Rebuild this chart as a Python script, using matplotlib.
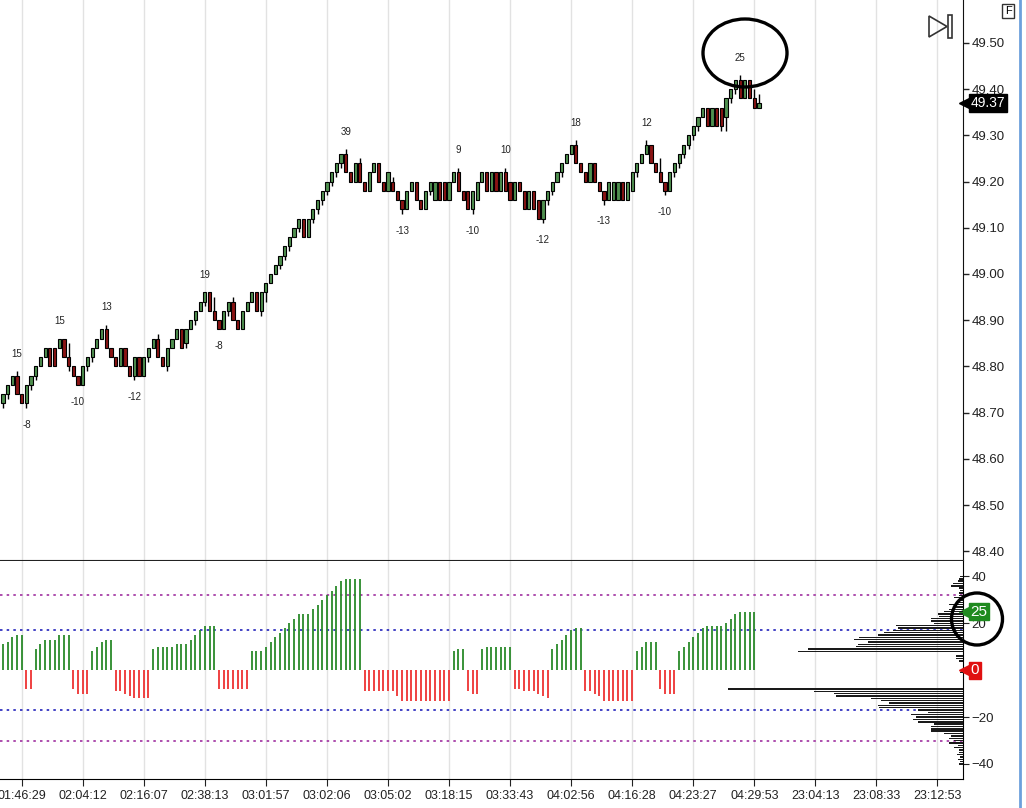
import numpy as np
import matplotlib
matplotlib.use("Agg")
import matplotlib.pyplot as plt
from matplotlib import patches, transforms
from matplotlib.lines import Line2D

plt.rcParams["font.family"] = ["Liberation Sans", "DejaVu Sans"]

# ---- price candles (one per bar, in dollars) ----
opens = [48.72, 48.74, 48.76, 48.78, 48.74, 48.72, 48.76, 48.78, 48.80, 48.82,
         48.84, 48.84, 48.84, 48.86, 48.82, 48.80, 48.78, 48.76, 48.80, 48.82,
         48.84, 48.86, 48.88, 48.84, 48.82, 48.80, 48.84, 48.80, 48.78, 48.82,
         48.78, 48.82, 48.84, 48.86, 48.82, 48.80, 48.84, 48.86, 48.88, 48.85,
         48.88, 48.90, 48.92, 48.94, 48.96, 48.92, 48.90, 48.88, 48.92, 48.94,
         48.90, 48.88, 48.92, 48.94, 48.96, 48.92, 48.96, 48.98, 49.00, 49.02,
         49.04, 49.06, 49.08, 49.10, 49.12, 49.08, 49.12, 49.14, 49.16, 49.18,
         49.20, 49.22, 49.24, 49.26, 49.22, 49.20, 49.24, 49.20, 49.18, 49.22,
         49.24, 49.20, 49.18, 49.20, 49.18, 49.16, 49.14, 49.18, 49.20, 49.16,
         49.14, 49.18, 49.16, 49.20, 49.20, 49.16, 49.20, 49.22, 49.18, 49.18,
         49.14, 49.16, 49.20, 49.22, 49.18, 49.22, 49.18, 49.22, 49.20, 49.16,
         49.20, 49.18, 49.14, 49.18, 49.16, 49.12, 49.16, 49.18, 49.20, 49.22,
         49.24, 49.26, 49.28, 49.24, 49.22, 49.20, 49.24, 49.20, 49.18, 49.16,
         49.16, 49.16, 49.20, 49.16, 49.18, 49.22, 49.24, 49.26, 49.28, 49.24,
         49.22, 49.20, 49.18, 49.22, 49.24, 49.26, 49.28, 49.30, 49.32, 49.34,
         49.36, 49.32, 49.36, 49.36, 49.34, 49.38, 49.40, 49.42, 49.38, 49.42,
         49.38, 49.36]
closes = [48.74, 48.76, 48.78, 48.74, 48.72, 48.76, 48.78, 48.80, 48.82, 48.84,
          48.80, 48.80, 48.86, 48.82, 48.80, 48.78, 48.76, 48.80, 48.82, 48.84,
          48.86, 48.88, 48.84, 48.82, 48.80, 48.84, 48.80, 48.78, 48.82, 48.78,
          48.82, 48.84, 48.86, 48.82, 48.80, 48.84, 48.86, 48.88, 48.84, 48.88,
          48.90, 48.92, 48.94, 48.96, 48.92, 48.90, 48.88, 48.92, 48.94, 48.90,
          48.88, 48.92, 48.94, 48.96, 48.92, 48.96, 48.98, 49.00, 49.02, 49.04,
          49.06, 49.08, 49.10, 49.12, 49.08, 49.12, 49.14, 49.16, 49.18, 49.20,
          49.22, 49.24, 49.26, 49.22, 49.20, 49.24, 49.20, 49.18, 49.22, 49.24,
          49.20, 49.18, 49.22, 49.18, 49.16, 49.14, 49.18, 49.20, 49.16, 49.14,
          49.18, 49.20, 49.20, 49.16, 49.16, 49.20, 49.22, 49.18, 49.16, 49.14,
          49.18, 49.20, 49.22, 49.18, 49.22, 49.18, 49.22, 49.18, 49.16, 49.20,
          49.18, 49.14, 49.18, 49.14, 49.12, 49.16, 49.18, 49.20, 49.22, 49.24,
          49.26, 49.28, 49.24, 49.22, 49.20, 49.24, 49.20, 49.18, 49.16, 49.20,
          49.20, 49.20, 49.16, 49.20, 49.22, 49.24, 49.26, 49.28, 49.24, 49.22,
          49.20, 49.18, 49.22, 49.24, 49.26, 49.28, 49.30, 49.32, 49.34, 49.36,
          49.32, 49.36, 49.32, 49.32, 49.38, 49.40, 49.42, 49.38, 49.42, 49.38,
          49.36, 49.37]
highs = [48.74, 48.76, 48.78, 48.79, 48.74, 48.76, 48.78, 48.80, 48.82, 48.84,
         48.84, 48.84, 48.86, 48.86, 48.85, 48.80, 48.78, 48.80, 48.82, 48.84,
         48.86, 48.88, 48.89, 48.84, 48.82, 48.84, 48.84, 48.80, 48.82, 48.82,
         48.82, 48.84, 48.86, 48.87, 48.82, 48.84, 48.86, 48.88, 48.88, 48.88,
         48.90, 48.92, 48.94, 48.96, 48.96, 48.95, 48.90, 48.92, 48.94, 48.95,
         48.90, 48.92, 48.94, 48.96, 48.96, 48.96, 48.98, 49.00, 49.02, 49.04,
         49.06, 49.08, 49.10, 49.12, 49.12, 49.12, 49.14, 49.16, 49.18, 49.20,
         49.22, 49.24, 49.26, 49.27, 49.22, 49.24, 49.25, 49.20, 49.22, 49.24,
         49.24, 49.20, 49.22, 49.21, 49.18, 49.16, 49.18, 49.20, 49.20, 49.16,
         49.18, 49.20, 49.20, 49.20, 49.20, 49.20, 49.22, 49.23, 49.18, 49.18,
         49.18, 49.20, 49.22, 49.22, 49.22, 49.22, 49.22, 49.23, 49.20, 49.20,
         49.20, 49.18, 49.18, 49.18, 49.16, 49.16, 49.18, 49.20, 49.22, 49.24,
         49.26, 49.28, 49.29, 49.24, 49.22, 49.24, 49.24, 49.20, 49.18, 49.20,
         49.20, 49.20, 49.20, 49.20, 49.22, 49.24, 49.26, 49.29, 49.28, 49.24,
         49.25, 49.20, 49.22, 49.24, 49.26, 49.28, 49.30, 49.32, 49.34, 49.36,
         49.36, 49.36, 49.36, 49.36, 49.38, 49.40, 49.42, 49.43, 49.42, 49.42,
         49.40, 49.39]
lows = [48.71, 48.73, 48.76, 48.74, 48.72, 48.71, 48.75, 48.77, 48.80, 48.82,
        48.80, 48.80, 48.84, 48.82, 48.79, 48.78, 48.76, 48.76, 48.79, 48.81,
        48.84, 48.86, 48.84, 48.82, 48.80, 48.80, 48.80, 48.78, 48.77, 48.78,
        48.78, 48.81, 48.84, 48.82, 48.80, 48.79, 48.84, 48.86, 48.84, 48.84,
        48.88, 48.89, 48.92, 48.93, 48.92, 48.90, 48.88, 48.88, 48.91, 48.90,
        48.88, 48.88, 48.92, 48.94, 48.92, 48.91, 48.94, 48.98, 49.00, 49.01,
        49.03, 49.05, 49.08, 49.09, 49.08, 49.08, 49.11, 49.13, 49.15, 49.17,
        49.19, 49.21, 49.23, 49.22, 49.20, 49.20, 49.20, 49.18, 49.18, 49.22,
        49.20, 49.18, 49.18, 49.18, 49.16, 49.13, 49.14, 49.18, 49.16, 49.14,
        49.14, 49.17, 49.16, 49.16, 49.16, 49.16, 49.20, 49.18, 49.16, 49.14,
        49.13, 49.16, 49.20, 49.18, 49.18, 49.18, 49.18, 49.18, 49.16, 49.16,
        49.18, 49.14, 49.14, 49.14, 49.12, 49.11, 49.15, 49.17, 49.20, 49.21,
        49.24, 49.26, 49.24, 49.22, 49.20, 49.20, 49.20, 49.18, 49.15, 49.16,
        49.16, 49.16, 49.16, 49.16, 49.18, 49.21, 49.24, 49.26, 49.24, 49.22,
        49.20, 49.17, 49.18, 49.21, 49.23, 49.25, 49.27, 49.29, 49.31, 49.34,
        49.32, 49.32, 49.32, 49.31, 49.31, 49.37, 49.39, 49.38, 49.38, 49.38,
        49.36, 49.36]

# swing labels on the price panel: (bar, text); negative ones sit under the low
swing_bars = [3, 5, 12, 16, 22, 28, 43, 46, 73, 85, 97, 100, 107, 115, 122, 128, 137, 141, 157]
swing_text = ["15", "-8", "15", "-10", "13", "-12", "19", "-8", "39", "-13",
              "9", "-10", "10", "-12", "18", "-13", "12", "-10", "25"]

# ---- swing histogram (lower panel), one value per bar ----
swing_vals = ([11, 12, 14, 15, 15] + [-8, -8]
              + [9, 11, 13, 13, 13, 15, 15, 15] + [-8, -10, -10, -10]
              + [8, 10, 12, 13, 13] + [-9, -9, -10, -11, -12, -12, -12, -12]
              + [9, 10, 10, 10, 10, 11, 11, 11, 13, 15, 17, 19, 19, 19]
              + [-8, -8, -8, -8, -8, -8, -8]
              + [8, 8, 8, 10, 12, 14, 16, 18, 20, 22, 24, 24, 24, 26, 28, 30,
                 32, 34, 36, 38, 39, 39, 39, 39]
              + [-9, -9, -9, -9, -9, -9, -9, -11, -13, -13, -13, -13, -13, -13,
                 -13, -13, -13, -13, -13]
              + [8, 9, 9] + [-9, -10, -10]
              + [9, 10, 10, 10, 10, 10, 10] + [-8, -8, -9, -9, -9, -10, -11, -12]
              + [9, 11, 13, 15, 17, 18, 18]
              + [-9, -9, -10, -11, -13, -13, -13, -13, -13, -13, -13]
              + [8, 10, 12, 12, 12] + [-8, -10, -10, -10]
              + [8, 10, 12, 14, 16, 18, 19, 19, 19, 19, 20, 22, 24, 25, 25, 25, 25])
current_swing = 0

# level lines on the swing panel
outer_levels = [32, -30]
inner_levels = [17, -17]

# profile of swing values on the right edge
profile_levels = list(range(40, -41, -1))
profile_counts = [3, 4, 5, 10, 12, 4, 3, 4, 4, 9,
                  5, 7, 14, 9, 14, 19, 25, 24, 32, 32,
                  29, 67, 65, 70, 79, 85, 104, 109, 95, 105,
                  107, 155, 165, 0, 7, 7, 4, 0, 0, 0,
                  0, 3, 0, 0, 0, 0, 0, 0, 235, 149,
                  129, 127, 92, 82, 74, 85, 84, 45, 35, 52,
                  47, 50, 45, 29, 32, 32, 32, 19, 12, 14,
                  9, 14, 5, 9, 4, 4, 6, 3, 5, 3, 4]

tick_bars = [4 + 13 * k for k in range(16)]
tick_labels = ["01:46:29", "02:04:12", "02:16:07", "02:38:13", "03:01:57", "03:02:06",
               "03:05:02", "03:18:15", "03:33:43", "04:02:56", "04:16:28", "04:23:27",
               "04:29:53", "23:04:13", "23:08:33", "23:12:53"]
price_ticks = [48.4, 48.5, 48.6, 48.7, 48.8, 48.9, 49.0, 49.1, 49.2, 49.3, 49.4, 49.5]

W, H = 1026, 808
fig = plt.figure(figsize=(W / 100, H / 100), dpi=100)
fig.patch.set_facecolor("white")

ax1 = fig.add_axes([0, 1 - 560 / H, 963 / W, 560 / H])
ax2 = fig.add_axes([0, 1 - 779 / H, 963 / W, 218 / H])

xlim = (-0.62, 204.45)
grid_col = "#e2e2e2"

# ---- price panel ----
idx = np.arange(len(opens))
o = np.array(opens)
c = np.array(closes)
up = c >= o
ax1.vlines(idx, lows, highs, color="black", lw=1, zorder=2)
ax1.bar(idx[up], (c - o)[up], bottom=o[up], width=0.68, color="#4f8f4f",
        edgecolor="black", lw=0.8, zorder=3)
ax1.bar(idx[~up], (c - o)[~up], bottom=o[~up], width=0.68, color="#8a1414",
        edgecolor="black", lw=0.8, zorder=3)

for b, t in zip(swing_bars, swing_text):
    if t.startswith("-"):
        ax1.annotate(t, (b, lows[b]), xytext=(0, -12), textcoords="offset points",
                     ha="center", va="center", fontsize=7, color="#222222")
    else:
        ax1.annotate(t, (b, highs[b]), xytext=(0, 12.5), textcoords="offset points",
                     ha="center", va="center", fontsize=7, color="#222222")

ax1.set_xlim(*xlim)
ax1.set_ylim(48.381, 49.593)
ax1.set_xticks(tick_bars)
ax1.tick_params(axis="x", bottom=False, labelbottom=False)
ax1.yaxis.tick_right()
ax1.set_yticks(price_ticks)
ax1.set_yticklabels([f"{p:.2f}" for p in price_ticks])
ax1.set_yticks([48.4, 48.7, 49.0, 49.3], minor=True)
ax1.tick_params(axis="y", which="major", direction="out", length=4, width=1,
                labelsize=9.5, pad=2, colors="#222222")
ax1.tick_params(axis="y", which="minor", length=0)
ax1.grid(axis="x", color=grid_col, lw=1)
ax1.grid(axis="y", which="minor", color=grid_col, lw=1)
ax1.set_axisbelow(True)
for s in ["left", "top"]:
    ax1.spines[s].set_visible(False)
ax1.spines["right"].set_color("#111111")
ax1.spines["bottom"].set_color("#222222")

# last price marker
blend1 = transforms.blended_transform_factory(ax1.transAxes, ax1.transData)
ax1.plot([1.002], [closes[-1]], marker="<", ms=8, color="black", transform=blend1,
         clip_on=False, zorder=5)
ax1.text(1.008, closes[-1], f"{closes[-1]:.2f}", transform=blend1, color="white",
         fontsize=10, ha="left", va="center", zorder=6,
         bbox=dict(boxstyle="square,pad=0.15", fc="black", ec="black"))

# ---- swing panel ----
sv = np.array(swing_vals)
si = np.arange(len(sv))
ax2.vlines(si[sv > 0], 0, sv[sv > 0], color="#2a8a2a", lw=1.3, zorder=3)
ax2.vlines(si[sv < 0], 0, sv[sv < 0], color="#ee3333", lw=1.3, zorder=3)
for lv in outer_levels:
    ax2.axhline(lv, color="#a030a0", ls=(0, (1.5, 2.5)), lw=1.2, zorder=2)
for lv in inner_levels:
    ax2.axhline(lv, color="#2222bb", ls=(0, (1.5, 2.5)), lw=1.2, zorder=2)

ax2.set_xlim(*xlim)
ax2.set_ylim(-46.4, 46.6)
ax2.set_xticks(tick_bars)
ax2.set_xticklabels(tick_labels)
ax2.tick_params(axis="x", direction="out", length=5, labelsize=9, pad=3,
                colors="#222222")
ax2.yaxis.tick_right()
ax2.set_yticks([40, 20, -20, -40])
ax2.set_yticks([20, -40], minor=True)
ax2.tick_params(axis="y", which="major", direction="out", length=4, labelsize=9.5,
                pad=2, colors="#222222")
ax2.tick_params(axis="y", which="minor", length=0)
ax2.grid(axis="x", color=grid_col, lw=1)
ax2.grid(axis="y", which="minor", color=grid_col, lw=1)
ax2.set_axisbelow(True)
for s in ["left", "top"]:
    ax2.spines[s].set_visible(False)

axp = ax2.twiny()
axp.barh(profile_levels, profile_counts, height=0.6, color="#1a1a1a", zorder=4)
axp.set_xlim(963, 0)
axp.axis("off")

blend2 = transforms.blended_transform_factory(ax2.transAxes, ax2.transData)
ax2.plot([1.002], [swing_vals[-1]], marker="<", ms=9, color="#1f8a1f",
         transform=blend2, clip_on=False, zorder=5)
ax2.text(1.008, swing_vals[-1], str(swing_vals[-1]), transform=blend2, color="white",
         fontsize=11, ha="left", va="center", zorder=6,
         bbox=dict(boxstyle="square,pad=0.1", fc="#1f8a1f", ec="#1f8a1f"))
ax2.plot([1.002], [current_swing], marker="<", ms=9, color="#e01010",
         transform=blend2, clip_on=False, zorder=5)
ax2.text(1.008, current_swing, str(current_swing), transform=blend2, color="white",
         fontsize=11, ha="left", va="center", zorder=6,
         bbox=dict(boxstyle="square,pad=0.1", fc="#e01010", ec="#e01010"))

# ---- window decorations and hand drawn circles ----
def fxy(x, y):
    return (x / W, 1 - y / H)

fig.add_artist(patches.Ellipse(fxy(745, 53), 84 / W, 68 / H, transform=fig.transFigure,
                               fill=False, lw=2.4, ec="black"))
fig.add_artist(patches.Ellipse(fxy(977, 619), 51 / W, 52 / H, transform=fig.transFigure,
                               fill=False, lw=2.4, ec="black"))
fig.add_artist(patches.Polygon([fxy(929, 16), fxy(929, 37), fxy(947, 26.5)], closed=True,
                               transform=fig.transFigure, fill=False, lw=1.2, ec="#333333"))
fig.add_artist(patches.Rectangle(fxy(948, 38), 4 / W, 23 / H, transform=fig.transFigure,
                                 fill=False, lw=1.2, ec="#333333"))
fig.text(1008 / W, 1 - 11 / H, "F", fontsize=8, ha="center", va="center",
         bbox=dict(boxstyle="square,pad=0.2", fc="white", ec="#333333", lw=1))
fig.add_artist(Line2D([1020 / W, 1020 / W], [0, 1], transform=fig.transFigure,
                      color="#6ca0dc", lw=2))

fig.savefig("out.png", dpi=100)
